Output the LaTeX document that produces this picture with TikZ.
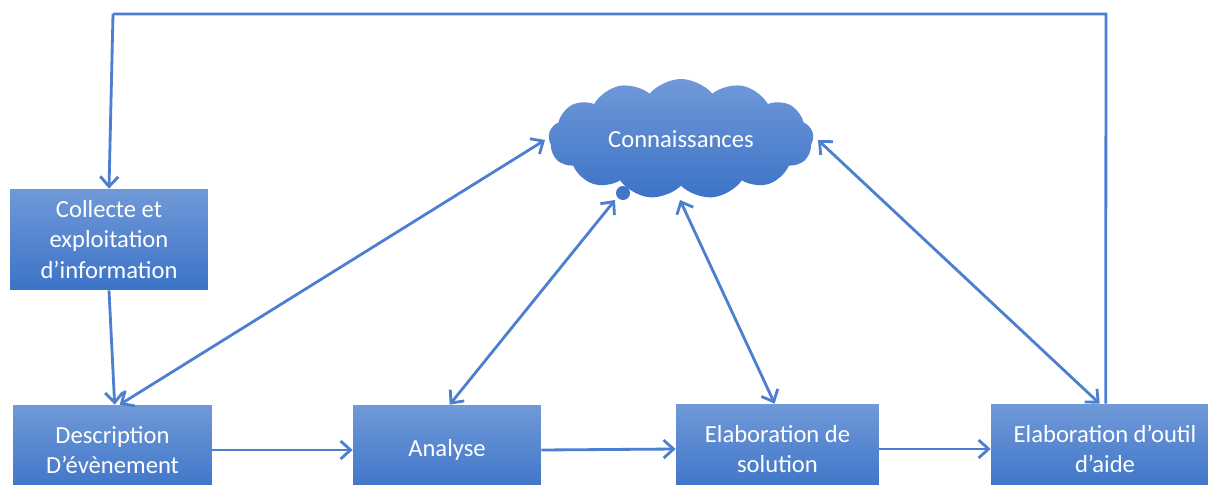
\documentclass[tikz,border=0pt]{standalone}
\usepackage{fontspec}
\setmainfont{Carlito}
\usetikzlibrary{arrows.meta,shapes.symbols,calc}
\definecolor{linec}{HTML}{4D7FD0}
\definecolor{boxtop}{HTML}{7099D8}
\definecolor{boxbot}{HTML}{3C73C7}
\tikzset{
  procbox/.style={rectangle, top color=boxtop, bottom color=boxbot, draw=none,
    text=white, font=\fontsize{14}{17.5}\selectfont, align=center, inner sep=0pt},
  conn/.style={draw=linec, line width=1.6pt, -{Straight Barb[length=2mm,width=3.6mm]}},
  biconn/.style={draw=linec, line width=1.6pt, {Straight Barb[length=2mm,width=3.6mm]}-{Straight Barb[length=2mm,width=3.6mm]}},
  plain/.style={draw=linec, line width=1.6pt}
}
\begin{document}
\begin{tikzpicture}[x=0.02cm, y=-0.02cm]
\clip (0,0) rectangle (1208,484);
\fill[white] (0,0) rectangle (1208,484);
% boxes
\node[procbox, minimum width=3.96cm, minimum height=2.02cm] (coll) at (109,239.5) {Collecte et\\exploitation\\d’information};
\node[procbox, minimum width=3.98cm, minimum height=1.8cm] (desc) at (112.5,450) {Description\\D’évènement};
\node[procbox, minimum width=3.76cm, minimum height=1.8cm] (anal) at (447,450) {Analyse};
\node[procbox, minimum width=4.06cm, minimum height=1.8cm] (sol) at (777.5,449) {Elaboration de\\solution};
\node[procbox, minimum width=4.56cm, minimum height=1.8cm] (outil) at (1105,449) {Elaboration d’outil\\d’aide};
% cloud
\node[cloud, cloud puffs=13, cloud puff arc=100, cloud ignores aspect, minimum width=5.3cm, minimum height=2.4cm,
  top color=boxtop, bottom color=boxbot, draw=none, text=white,
  font=\fontsize{14}{17}\selectfont, inner sep=0pt] (cloud) at (681,139) {Connaissances};
\fill[boxbot!90!boxtop] (623,193) circle (7);
% key points
\coordinate (cW) at ($(cloud.center)+(-136,1)$);
\coordinate (cE) at ($(cloud.center)+(137,1)$);
\coordinate (cSW) at ($(cloud.center)+(-66,61)$);
\coordinate (cS) at ($(cloud.center)+(-1,61)$);
\coordinate (topL) at (113,14);
\coordinate (topR) at (1106,14);
% connectors
\draw[plain] ($(outil.north west)+(115,0)$) -- (topR) -- (topL);
\draw[conn] (topL) -- (coll.north);
\draw[conn] (coll.south) -- ($(desc.north west)+(102,0)$);
\draw[biconn] ($(desc.north west)+(107,0)$) -- (cW);
\draw[biconn] ($(anal.north west)+(97,0)$) -- (cSW);
\draw[biconn] ($(sol.north west)+(99,0)$) -- (cS);
\draw[biconn] ($(outil.north west)+(109,0)$) -- (cE);
\draw[conn] (desc.east) -- (anal.west);
\draw[conn] (anal.east) -- (sol.west);
\draw[conn] (sol.east) -- (outil.west);
\end{tikzpicture}
\end{document}
